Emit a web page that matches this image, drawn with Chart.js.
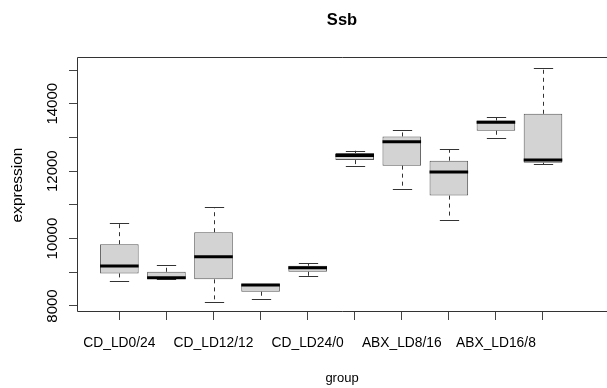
<!DOCTYPE html>
<html>
<head>
<meta charset="utf-8">
<script src="https://cdn.jsdelivr.net/npm/chart.js@4"></script>
<style>html,body{margin:0;padding:0;background:#fff;overflow:hidden}canvas{display:block}</style>
</head>
<body>
<canvas id="c" width="607" height="388"></canvas>
<script>
// ---- data ----
const groups = ['CD_LD0/24','CD_LD8/16','CD_LD12/12','CD_LD16/8','CD_LD24/0',
                'ABX_LD0/24','ABX_LD8/16','ABX_LD12/12','ABX_LD16/8','ABX_LD24/0'];
const whiskerLow  = [8730, 8795, 8120, 8200, 8880, 12160, 11460, 10565, 12990, 12210];
const q1          = [8967, 8800, 8790, 8423, 9015, 12328, 12163, 11275, 13198, 12251];
const median      = [9183, 8838, 9459, 8625, 9133, 12467, 12872, 11974, 13453, 12328];
const q3          = [9834, 9015, 10189, 8660, 9192, 12536, 13030, 12311, 13503, 13701];
const whiskerHigh = [10476, 9204, 10938, 8660, 9272, 12606, 13217, 12654, 13592, 15062];
const yTicks      = [8000, 9000, 10000, 11000, 12000, 13000, 14000, 15000];
const yTickLabels = [8000, 10000, 12000, 14000];
const chartTitle  = 'Ssb';
const xTitle      = 'group';
const yTitle      = 'expression';

Chart.defaults.font.family = '"Liberation Sans", Arial, Helvetica, sans-serif';
Chart.defaults.color = '#000';

const boxPlugin = {
  id: 'boxWhiskers',
  afterDatasetsDraw(chart) {
    const {ctx, chartArea, scales: {x, y}} = chart;
    const meta = chart.getDatasetMeta(0);
    const line = (x1, y1, x2, y2) => { ctx.beginPath(); ctx.moveTo(x1, y1); ctx.lineTo(x2, y2); ctx.stroke(); };
    ctx.save();
    meta.data.forEach((bar, i) => {
      const cx = Math.round(bar.x) + 0.5;
      const w = bar.width;
      const yLo = y.getPixelForValue(whiskerLow[i]);
      const yQ1 = y.getPixelForValue(q1[i]);
      const yMed = y.getPixelForValue(median[i]);
      const yQ3 = y.getPixelForValue(q3[i]);
      const yHi = y.getPixelForValue(whiskerHigh[i]);
      ctx.strokeStyle = '#333';
      ctx.lineWidth = 1;
      ctx.setLineDash([4, 4]);
      if (yHi < yQ3) line(cx, yQ3, cx, yHi);
      if (yLo > yQ1) line(cx, yQ1, cx, yLo);
      ctx.setLineDash([]);
      line(cx - w / 4, Math.round(yHi) + 0.5, cx + w / 4, Math.round(yHi) + 0.5);
      line(cx - w / 4, Math.round(yLo) + 0.5, cx + w / 4, Math.round(yLo) + 0.5);
      ctx.strokeStyle = '#000';
      ctx.lineWidth = 3;
      line(bar.x - w / 2, yMed, bar.x + w / 2, yMed);
    });
    // plot frame (right side lies outside the picture)
    ctx.strokeStyle = '#333';
    ctx.lineWidth = 1;
    const l = Math.round(chartArea.left) + 0.5, t = Math.round(chartArea.top) - 0.5, b = Math.round(chartArea.bottom) - 0.5;
    ctx.beginPath();
    ctx.moveTo(chartArea.right + 5, t); ctx.lineTo(l, t); ctx.lineTo(l, b); ctx.lineTo(chartArea.right + 5, b);
    ctx.stroke();
    ctx.restore();
  }
};

new Chart(document.getElementById('c'), {
  type: 'bar',
  data: {
    datasets: [{
      data: groups.map((g, i) => ({x: i + 1, y: [q1[i], q3[i]]})),
      backgroundColor: '#d3d3d3',
      borderColor: '#555',
      borderWidth: 1,
      borderSkipped: false,
      barPercentage: 0.82,
      categoryPercentage: 1
    }]
  },
  options: {
    responsive: false,
    animation: false,
    devicePixelRatio: 1,
    layout: {padding: 0},
    plugins: {
      legend: {display: false},
      tooltip: {enabled: false},
      title: {
        display: true, text: chartTitle, fullSize: false, color: '#000',
        font: {size: 16.5, weight: 'bold'},
        padding: {top: 10.6, bottom: 27.6}
      }
    },
    scales: {
      x: {
        type: 'linear', min: 0.1, max: 11.36, offset: false,
        afterBuildTicks: a => { a.ticks = groups.map((g, i) => ({value: i + 1})); },
        afterFit: s => { s.height = 76; },
        ticks: {
          autoSkip: false, minRotation: 0, maxRotation: 0, padding: 14.5, color: '#000',
          font: {size: 13.8},
          callback: (v, idx) => (idx % 2 === 0 ? groups[Math.round(v) - 1] : '')
        },
        grid: {offset: false, drawOnChartArea: false, drawTicks: true, tickLength: 8, color: '#444'},
        border: {display: false},
        title: {display: true, text: xTitle, color: '#000', font: {size: 13}, padding: {top: 0, bottom: 2.2}}
      },
      y: {
        type: 'linear', min: 7822, max: 15356,
        afterBuildTicks: a => { a.ticks = yTicks.map(v => ({value: v})); },
        afterFit: s => { s.width = 77; },
        ticks: {
          autoSkip: false, minRotation: 90, maxRotation: 90, crossAlign: 'center', padding: -5, color: '#000',
          font: {size: 15},
          callback: v => (yTickLabels.includes(v) ? String(v) : '')
        },
        grid: {drawOnChartArea: false, drawTicks: true, tickLength: 8, color: '#444'},
        border: {display: false},
        title: {display: true, text: yTitle, color: '#000', font: {size: 15.5}, padding: {top: 8.2, bottom: 0}}
      }
    }
  },
  plugins: [boxPlugin]
});
</script>
</body>
</html>
